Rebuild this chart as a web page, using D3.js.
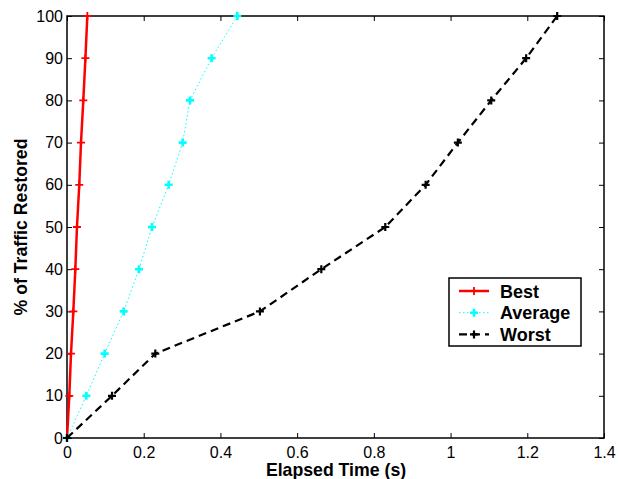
<!DOCTYPE html>
<html>
<head>
<meta charset="utf-8">
<script src="https://cdn.jsdelivr.net/npm/d3@7"></script>
<style>
  body { margin: 0; background: #fff; }
  svg { display: block; font-family: "Liberation Sans", Arial, Helvetica, sans-serif; }
</style>
</head>
<body>
<script>
// percentage of traffic restored (y) for each series
const levels = [0, 10, 20, 30, 40, 50, 60, 70, 80, 90, 100];
// elapsed time (s) at each level
const bestTimes = [0, 0.006, 0.0104, 0.0165, 0.0217, 0.026, 0.032, 0.0365, 0.0425, 0.048, 0.053];
const averageTimes = [0, 0.0504, 0.0982, 0.1477, 0.1877, 0.2216, 0.265, 0.3015, 0.3206, 0.377, 0.444];
const worstTimes = [0, 0.1173, 0.2302, 0.503, 0.663, 0.8298, 0.935, 1.019, 1.106, 1.197, 1.278];

const xTicks = [0, 0.2, 0.4, 0.6, 0.8, 1, 1.2, 1.4];
const yTicks = [0, 10, 20, 30, 40, 50, 60, 70, 80, 90, 100];

const series = [
    { name: 'Best', times: bestTimes, color: '#ff0000', width: 2.5, dash: null, marker: 1.8 },
    { name: 'Average', times: averageTimes, color: '#00ffff', width: 1, dash: '1.5,2.5', marker: 2.6 },
    { name: 'Worst', times: worstTimes, color: '#000000', width: 2.2, dash: '8,5', marker: 2.2 }
];

const width = 618;
const height = 479;
const margin = { top: 16, right: 14, bottom: 41, left: 67 };

const svg = d3.select('body').append('svg')
    .attr('width', width)
    .attr('height', height);

const x = d3.scaleLinear().domain([0, 1.4]).range([margin.left, width - margin.right]);
const y = d3.scaleLinear().domain([0, 100]).range([height - margin.bottom, margin.top]);

function styleAxis(g) {
    g.select('.domain').remove();
    g.selectAll('.tick line').attr('stroke', '#000').attr('stroke-width', 1);
    g.selectAll('.tick text').attr('fill', '#000').style('font-size', '16px');
}

// bottom axis with labels, ticks inward
svg.append('g')
    .attr('transform', `translate(0,${y(0)})`)
    .call(d3.axisBottom(x).tickValues(xTicks).tickFormat(d3.format('')).tickSizeInner(-5).tickSizeOuter(0).tickPadding(9))
    .call(styleAxis);

svg.append('g')
    .attr('transform', `translate(${x(0)},0)`)
    .call(d3.axisLeft(y).tickValues(yTicks).tickSizeInner(-5).tickSizeOuter(0).tickPadding(4))
    .call(styleAxis);

// top and right ticks (no labels)
svg.append('g')
    .attr('transform', `translate(0,${y(100)})`)
    .call(d3.axisTop(x).tickValues(xTicks).tickFormat('').tickSizeInner(-5).tickSizeOuter(0))
    .call(styleAxis);

svg.append('g')
    .attr('transform', `translate(${x(1.4)},0)`)
    .call(d3.axisRight(y).tickValues(yTicks).tickFormat('').tickSizeInner(-5).tickSizeOuter(0))
    .call(styleAxis);

// frame
svg.append('rect')
    .attr('x', x(0))
    .attr('y', y(100))
    .attr('width', x(1.4) - x(0))
    .attr('height', y(0) - y(100))
    .attr('fill', 'none')
    .attr('stroke', '#000')
    .attr('stroke-width', 1.5);

const line = d3.line()
    .x(d => x(d[0]))
    .y(d => y(d[1]));

function plus(g, cx, cy, size, color, sw) {
    g.append('path')
        .attr('d', `M${cx - size},${cy}H${cx + size}M${cx},${cy - size}V${cy + size}`)
        .attr('stroke', color)
        .attr('stroke-width', sw)
        .attr('fill', 'none');
}

series.forEach(s => {
    const pts = s.times.map((t, i) => [t, levels[i]]);
    const g = svg.append('g');
    g.append('path')
        .datum(pts)
        .attr('d', line)
        .attr('fill', 'none')
        .attr('stroke', s.color)
        .attr('stroke-width', s.width)
        .attr('stroke-dasharray', s.dash);
    pts.forEach(p => plus(g, x(p[0]), y(p[1]), 4, s.color, s.marker));
});

// axis titles
svg.append('text')
    .attr('x', 336)
    .attr('y', 476)
    .attr('text-anchor', 'middle')
    .style('font-size', '17.7px')
    .style('font-weight', 'bold')
    .text('Elapsed Time (s)');

svg.append('text')
    .attr('transform', `translate(27,${(y(0) + y(100)) / 2}) rotate(-90)`)
    .attr('text-anchor', 'middle')
    .style('font-size', '17.7px')
    .style('font-weight', 'bold')
    .text('% of Traffic Restored');

// legend
const legend = svg.append('g').attr('transform', 'translate(449,278)');
legend.append('rect')
    .attr('width', 132)
    .attr('height', 68)
    .attr('fill', '#fff')
    .attr('stroke', '#000')
    .attr('stroke-width', 1.5);

series.forEach((s, i) => {
    const ry = 13 + i * 21.7;
    legend.append('line')
        .attr('x1', 10).attr('x2', 40)
        .attr('y1', ry).attr('y2', ry)
        .attr('stroke', s.color)
        .attr('stroke-width', s.width)
        .attr('stroke-dasharray', s.dash);
    plus(legend, 25, ry, 4, s.color, s.marker);
    legend.append('text')
        .attr('x', 51)
        .attr('y', ry + 6.5)
        .style('font-size', '18px')
        .style('font-weight', 'bold')
        .text(s.name);
});
</script>
</body>
</html>
